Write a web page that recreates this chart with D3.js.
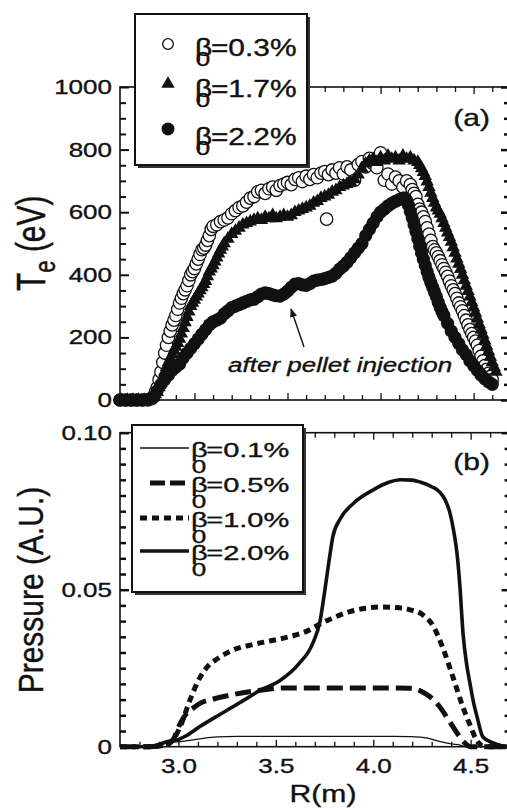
<!DOCTYPE html>
<html><head><meta charset="utf-8">
<script src="https://cdn.jsdelivr.net/npm/d3@7"></script>
<style>body{margin:0;background:#fff}svg{display:block}text{stroke:#111;stroke-width:0.35px}</style>
</head><body>
<svg id="c" width="507" height="810"></svg>
<script>
// ---------------- DATA ----------------
// Panel (a): Te profiles (R in m, Te in eV)
const r03 = [2.60,2.63,2.66,2.69,2.72,2.75,2.77,2.78,2.79,2.80,2.81,2.82,2.83,2.84,2.85,2.86,2.87,2.88,2.89,2.90,2.91,2.92,2.93,2.94,2.95,2.96,2.97,2.98,2.99,3.00,3.01,3.02,3.03,3.04,3.05,3.06,3.07,3.08,3.09,3.10,3.12,3.14,3.16,3.18,3.20,3.22,3.24,3.26,3.28,3.30,3.32,3.34,3.36,3.38,3.40,3.42,3.44,3.46,3.48,3.50,3.52,3.54,3.56,3.58,3.60,3.62,3.64,3.66,3.68,3.70,3.71,3.72,3.74,3.76,3.78,3.80,3.82,3.84,3.86,3.88,3.90,3.92,3.94,3.96,3.98,4.00,4.02,4.04,4.06,4.08,4.10,4.12,4.14,4.16,4.17,4.18,4.19,4.20,4.21,4.22,4.23,4.24,4.25,4.26,4.27,4.28,4.29,4.30,4.31,4.32,4.33,4.34,4.35,4.36,4.37,4.38,4.39,4.40,4.41,4.42,4.43,4.44,4.45,4.46,4.47,4.48,4.49,4.50,4.51,4.52,4.53,4.54,4.55,4.56,4.57,4.58,4.59,4.60];
const te03 = [0,0,0,0,0,0,4,10,25,40,65,90,120,150,175,200,220,240,255,270,290,310,325,340,352,365,382,400,410,420,435,450,465,480,485,495,510,525,545,555,560,570,575,582,595,605,615,620,632,645,650,665,670,660,675,680,670,685,690,695,688,705,710,698,715,705,720,710,725,730,578,720,735,725,742,722,745,735,702,752,762,745,772,755,742,790,702,722,690,712,700,680,700,688,672,660,650,625,610,600,585,570,550,530,510,490,480,470,458,445,432,420,408,395,380,365,352,340,325,310,298,285,270,255,240,225,212,200,188,175,158,140,125,110,98,85,75,65];

const r17 = [2.61,2.64,2.67,2.70,2.73,2.76,2.78,2.79,2.80,2.81,2.82,2.83,2.84,2.85,2.86,2.87,2.88,2.89,2.90,2.91,2.92,2.93,2.94,2.95,2.96,2.97,2.98,2.99,3.00,3.01,3.02,3.03,3.04,3.05,3.06,3.07,3.08,3.09,3.10,3.11,3.12,3.13,3.14,3.15,3.16,3.18,3.20,3.22,3.24,3.26,3.28,3.30,3.32,3.34,3.36,3.38,3.40,3.42,3.44,3.46,3.48,3.50,3.52,3.54,3.56,3.58,3.60,3.62,3.64,3.66,3.68,3.70,3.72,3.74,3.76,3.78,3.80,3.82,3.84,3.86,3.88,3.90,3.92,3.94,3.96,3.98,4.00,4.02,4.04,4.06,4.08,4.10,4.12,4.14,4.16,4.18,4.20,4.21,4.22,4.23,4.24,4.25,4.26,4.27,4.28,4.29,4.30,4.31,4.32,4.33,4.34,4.35,4.36,4.37,4.38,4.39,4.40,4.41,4.42,4.43,4.44,4.45,4.46,4.47,4.48,4.49,4.50,4.51,4.52,4.53,4.54,4.55,4.56,4.57,4.58,4.59,4.60,4.61,4.62];
const te17 = [0,0,0,0,0,2,10,18,25,40,55,72,90,105,120,132,145,158,170,182,195,212,230,248,265,282,300,310,320,330,340,350,360,370,380,395,410,420,430,442,455,468,480,490,500,515,530,540,550,560,565,570,575,580,575,585,580,590,580,585,590,585,590,600,605,610,615,620,630,635,645,650,655,665,670,680,685,690,695,705,720,740,755,765,770,760,775,765,780,770,775,765,780,770,775,765,760,750,740,728,715,698,680,662,645,630,615,605,595,580,565,550,535,520,505,488,470,452,435,418,400,382,365,348,330,312,295,278,260,242,225,208,190,172,155,138,120,105,90];

const r22 = [2.60,2.63,2.66,2.69,2.72,2.75,2.78,2.80,2.82,2.84,2.86,2.88,2.90,2.92,2.94,2.96,2.98,3.00,3.02,3.04,3.06,3.08,3.10,3.12,3.14,3.16,3.18,3.20,3.22,3.24,3.26,3.28,3.30,3.32,3.34,3.36,3.38,3.40,3.42,3.44,3.46,3.48,3.50,3.52,3.54,3.56,3.58,3.60,3.62,3.64,3.66,3.68,3.70,3.72,3.74,3.76,3.78,3.80,3.82,3.84,3.86,3.88,3.90,3.92,3.94,3.96,3.98,4.00,4.02,4.04,4.06,4.08,4.10,4.12,4.13,4.14,4.15,4.16,4.17,4.18,4.19,4.20,4.21,4.22,4.23,4.24,4.25,4.26,4.27,4.28,4.29,4.30,4.31,4.32,4.33,4.34,4.36,4.38,4.40,4.42,4.44,4.46,4.48,4.50,4.52,4.54,4.56,4.58,4.60];
const te22 = [0,0,0,0,0,2,10,30,50,65,80,95,105,115,135,150,165,180,195,210,225,240,250,255,262,275,285,295,300,305,310,315,320,322,330,338,342,340,336,333,332,338,348,360,370,372,368,366,372,380,383,385,388,392,396,405,418,428,440,455,470,485,500,525,545,565,585,600,610,620,628,635,640,645,645,638,622,602,582,560,538,515,492,470,450,430,410,392,375,360,345,330,312,296,282,270,245,220,200,180,160,145,125,110,95,80,68,58,50];

// Panel (b): pressure profiles (R in m, pressure in A.U.)
const rP01 = [2.70,2.80,2.90,2.94,3.02,3.11,3.20,3.30,3.50,3.80,4.10,4.19,4.28,4.34,4.40,4.445,4.48,4.60,4.70];
const p01  = [0,0,0.0004,0.0012,0.0017,0.0025,0.0031,0.0033,0.0033,0.0033,0.0033,0.0032,0.0027,0.0017,0.0009,0.0005,0,0,0];
const rP05 = [2.70,2.85,2.93,2.97,3.01,3.04,3.08,3.11,3.18,3.28,3.42,3.54,3.80,4.10,4.20,4.25,4.29,4.34,4.39,4.44,4.47,4.50,4.60,4.70];
const p05  = [0,0,0.0005,0.002,0.0075,0.0105,0.0125,0.0138,0.0152,0.0166,0.0180,0.0187,0.0187,0.0187,0.0186,0.0175,0.0160,0.0128,0.0082,0.0035,0.0012,0,0,0];
const rP10 = [2.70,2.85,2.93,2.97,3.01,3.06,3.11,3.16,3.20,3.28,3.38,3.48,3.58,3.66,3.73,3.80,3.88,3.96,4.04,4.12,4.19,4.25,4.31,4.36,4.41,4.46,4.50,4.53,4.56,4.60,4.70];
const p10  = [0,0,0.0005,0.002,0.0065,0.0150,0.0220,0.0262,0.0280,0.0308,0.0325,0.0338,0.0352,0.0368,0.0392,0.0412,0.0430,0.0441,0.0445,0.0443,0.0436,0.0422,0.0382,0.0310,0.0220,0.0127,0.0064,0.0021,0.0003,0,0];
const rP20 = [2.70,2.80,2.88,2.94,2.99,3.04,3.11,3.20,3.28,3.36,3.42,3.52,3.62,3.69,3.727,3.752,3.775,3.793,3.83,3.90,4.00,4.08,4.14,4.20,4.24,4.30,4.343,4.37,4.394,4.415,4.43,4.445,4.461,4.48,4.497,4.515,4.533,4.563,4.615,4.66,4.70];
const p20  = [0,0,0.0004,0.0016,0.0021,0.0035,0.0064,0.0098,0.0127,0.0157,0.0180,0.0210,0.0265,0.0330,0.0400,0.0500,0.0600,0.0670,0.0725,0.0776,0.0818,0.0842,0.0850,0.0849,0.0843,0.0828,0.0810,0.0785,0.0744,0.0680,0.0616,0.0510,0.0360,0.0260,0.0200,0.0140,0.0095,0.0031,0.0012,0.0003,0];

// Ticks and labels
const teTicks  = [0,200,400,600,800,1000];
const teMinor  = [50,100,150,250,300,350,450,500,550,650,700,750,850,900,950];
const rTicks   = [3.0,3.5,4.0,4.5];
const rMinorA  = [2.7,2.8,2.9,3.1,3.2,3.3,3.4,3.6,3.7,3.8,3.9,4.1,4.2,4.3,4.4,4.6];
const rMinorB  = [2.8,2.9,3.1,3.2,3.3,3.4,3.6,3.7,3.8,3.9,4.1,4.2,4.3,4.4,4.6];
const pTicks   = [0,0.05,0.10];
const pMinor   = [0.005,0.010,0.015,0.020,0.025,0.030,0.035,0.040,0.045,0.055,0.060,0.065,0.070,0.075,0.080,0.085,0.090,0.095];
const legendA  = ["0.3%","1.7%","2.2%"];
const legendB  = ["0.1%","0.5%","1.0%","2.0%"];

// ---------------- DRAWING ----------------
const FONT = '"Liberation Sans", Arial, Helvetica, sans-serif';
const INK = '#111';
const svg = d3.select('#c');

const xA = d3.scaleLinear().domain([2.6,4.69]).range([120,509]);
const yA = d3.scaleLinear().domain([0,1000]).range([400,87]);
const xB = d3.scaleLinear().domain([2.7,4.7]).range([120,509.6]);
const yB = d3.scaleLinear().domain([0,0.10]).range([746.7,432.7]);

function text(x,y,str,size,sx,anchor,style){
  return svg.append('text').attr('transform',`translate(${x},${y}) scale(${sx},1)`)
    .attr('text-anchor',anchor||'start').attr('font-size',size).attr('font-family',FONT)
    .attr('font-style',style||'normal').attr('fill',INK).text(str);
}
// beta with stacked subscript 0, all in one text element
function betaLabel(x,y,val,size,subSize,subDy,sx){
  const t = svg.append('text').attr('transform',`translate(${x},${y}) scale(${sx},1)`)
    .attr('font-size',size).attr('font-family',FONT).attr('fill',INK);
  const bw = 0.575*size, zw = 0.556*subSize;
  t.append('tspan').text('β');
  t.append('tspan').attr('dx',-bw+0.5).attr('dy',subDy).attr('font-size',subSize).text('0');
  t.append('tspan').attr('dx',bw-zw-1.5).attr('dy',-subDy).text('='+val);
  return t;
}
function tickAxis(gen, tr, vals, len, w){
  const g = svg.append('g').attr('transform',tr)
    .call(gen.tickValues(vals).tickSize(-len).tickSizeOuter(0).tickFormat(''));
  g.select('.domain').remove();
  g.selectAll('line').attr('stroke',INK).attr('stroke-width',w);
  return g;
}
function labelAxis(gen, tr, vals, fmt, pad, size, sx, horizontal){
  const g = svg.append('g').attr('transform',tr)
    .call(gen.tickValues(vals).tickSize(0).tickPadding(pad).tickFormat(fmt));
  g.select('.domain').remove();
  g.selectAll('line').remove();
  g.selectAll('text').attr('font-size',size).attr('font-family',FONT).attr('fill',INK)
    .each(function(){
      const t=d3.select(this);
      if(horizontal){ t.attr('transform',`scale(${sx},1)`); }
      else { const x=+t.attr('x'); t.attr('x',0).attr('transform',`translate(${x},0) scale(${sx},1)`); }
    });
  return g;
}

// ---- Panel (a) frame & ticks
svg.append('rect').attr('x',120).attr('y',87).attr('width',389).attr('height',313)
  .attr('fill','none').attr('stroke',INK).attr('stroke-width',1.6);
tickAxis(d3.axisLeft(yA),'translate(120,0)',teTicks,9,2);
tickAxis(d3.axisLeft(yA),'translate(120,0)',teMinor,6,2);
tickAxis(d3.axisRight(yA),'translate(509,0)',teTicks,8,2.5);
tickAxis(d3.axisRight(yA),'translate(509,0)',teMinor,5,2.5);
tickAxis(d3.axisBottom(xA),'translate(0,400)',rTicks,7,1.3);
tickAxis(d3.axisBottom(xA),'translate(0,400)',rMinorA,5,1.3);
tickAxis(d3.axisTop(xA),'translate(0,87)',rTicks,7,1.3);
tickAxis(d3.axisTop(xA),'translate(0,87)',rMinorA,5,1.3);
labelAxis(d3.axisLeft(yA),'translate(120,0)',teTicks,d3.format('d'),8,20,1.3,false);

// ---- Panel (a) data
const ptsA = (rs,ts)=>rs.map((r,i)=>({r,t:ts[i]}));
svg.append('g').selectAll('circle').data(ptsA(r03,te03)).join('circle')
  .attr('cx',d=>xA(d.r)).attr('cy',d=>yA(d.t)).attr('r',6.2)
  .attr('fill','#fff').attr('stroke',INK).attr('stroke-width',1.3);
const tri = d3.symbol(d3.symbolTriangle,78);
svg.append('g').selectAll('path').data(ptsA(r17,te17)).join('path')
  .attr('transform',d=>`translate(${xA(d.r)},${yA(d.t)})`).attr('d',tri).attr('fill',INK);
svg.append('g').selectAll('circle').data(ptsA(r22,te22)).join('circle')
  .attr('cx',d=>xA(d.r)).attr('cy',d=>yA(d.t)).attr('r',6.6).attr('fill',INK);

// annotation
svg.append('defs').append('marker').attr('id','ah').attr('viewBox','0 0 10 10')
  .attr('refX',9).attr('refY',5).attr('markerWidth',9).attr('markerHeight',9).attr('orient','auto')
  .attr('markerUnits','userSpaceOnUse')
  .append('path').attr('d','M0,1 L10,5 L0,9 z').attr('fill',INK);
svg.append('line').attr('x1',304).attr('y1',347).attr('x2',291).attr('y2',309)
  .attr('stroke',INK).attr('stroke-width',1.4).attr('marker-end','url(#ah)');
text(228,372,'after pellet injection',21,1.24,'start','italic');
text(490,126,'(a)',24,1.25,'end');

// legend (a)
svg.append('rect').attr('x',138).attr('y',17).attr('width',172).attr('height',151).attr('fill','#333');
svg.append('rect').attr('x',135).attr('y',14).attr('width',172).attr('height',151)
  .attr('fill','#fff').attr('stroke',INK).attr('stroke-width',2);
const rowA=[56,97,145], mkA=[44,84,129];
svg.append('circle').attr('cx',168).attr('cy',mkA[0]).attr('r',5.3).attr('fill','#fff').attr('stroke',INK).attr('stroke-width',1.3);
svg.append('path').attr('transform',`translate(168,${mkA[1]})`).attr('d',tri).attr('fill',INK);
svg.append('circle').attr('cx',168).attr('cy',mkA[2]).attr('r',6.5).attr('fill',INK);
legendA.forEach((s,i)=>betaLabel(195,rowA[i],s,23,20,10,1.3));

// ---- Panel (b) frame & ticks
svg.append('rect').attr('x',120).attr('y',432.7).attr('width',389.6).attr('height',314)
  .attr('fill','none').attr('stroke',INK).attr('stroke-width',1.6);
tickAxis(d3.axisLeft(yB),'translate(120,0)',pTicks,9,2.5);
tickAxis(d3.axisLeft(yB),'translate(120,0)',pMinor,6,2.5);
tickAxis(d3.axisRight(yB),'translate(509.6,0)',pTicks,8,2.5);
tickAxis(d3.axisRight(yB),'translate(509.6,0)',pMinor,5,2.5);
tickAxis(d3.axisBottom(xB),'translate(0,746.7)',rTicks,7,1.3);
tickAxis(d3.axisBottom(xB),'translate(0,746.7)',rMinorB,5,1.3);
tickAxis(d3.axisTop(xB),'translate(0,432.7)',rTicks,7,1.3);
tickAxis(d3.axisTop(xB),'translate(0,432.7)',rMinorB,5,1.3);
labelAxis(d3.axisLeft(yB),'translate(120,0)',pTicks,d=>d===0?'0':d3.format('.2f')(d),8,20,1.3,false);
labelAxis(d3.axisBottom(xB),'translate(0,746.7)',rTicks,d3.format('.1f'),12,20,1.3,true);

// ---- Panel (b) curves
const line = d3.line().x(d=>xB(d[0])).y(d=>yB(d[1])).curve(d3.curveMonotoneX);
const styles = [
  {w:1.3, dash:null},
  {w:5, dash:'16,7'},
  {w:5, dash:'7,5'},
  {w:3.6, dash:null}
];
const curves = [[rP01,p01],[rP05,p05],[rP10,p10],[rP20,p20]];
curves.forEach((c,i)=>{
  svg.append('path').datum(d3.zip(c[0],c[1])).attr('d',line)
    .attr('fill','none').attr('stroke',INK).attr('stroke-width',styles[i].w)
    .attr('stroke-dasharray',styles[i].dash).attr('stroke-linejoin','round');
});
text(490,470,'(b)',24,1.25,'end');

// legend (b)
svg.append('rect').attr('x',135).attr('y',428).attr('width',171).attr('height',167).attr('fill','#333');
svg.append('rect').attr('x',132).attr('y',425).attr('width',171).attr('height',167)
  .attr('fill','#fff').attr('stroke',INK).attr('stroke-width',2);
const rowB=[457,492,527,560];
legendB.forEach((s,i)=>{
  svg.append('line').attr('x1',i===1?150:140).attr('x2',189).attr('y1',rowB[i]-9).attr('y2',rowB[i]-9)
    .attr('stroke',INK).attr('stroke-width',styles[i].w).attr('stroke-dasharray',i===1?'15,5':styles[i].dash);
  betaLabel(191,rowB[i],s,20,18,16,1.45);
});

// ---- axis titles
svg.append('text').attr('transform','translate(43,590) rotate(-90) scale(1,1.18)')
  .attr('text-anchor','middle').attr('font-size',30).attr('font-family',FONT).attr('fill',INK)
  .text('Pressure (A.U.)');
const te = svg.append('text').attr('transform','translate(45,291) rotate(-90) scale(1,1.33)')
  .attr('text-anchor','start').attr('font-size',30).attr('font-family',FONT).attr('fill',INK);
te.append('tspan').text('T');
te.append('tspan').attr('dy',7.5).attr('font-size',22).text('e');
te.append('tspan').attr('dy',-7.5).text(' (eV)');
text(323,802,'R(m)',23,1.31,'middle');
</script>
</body></html>
